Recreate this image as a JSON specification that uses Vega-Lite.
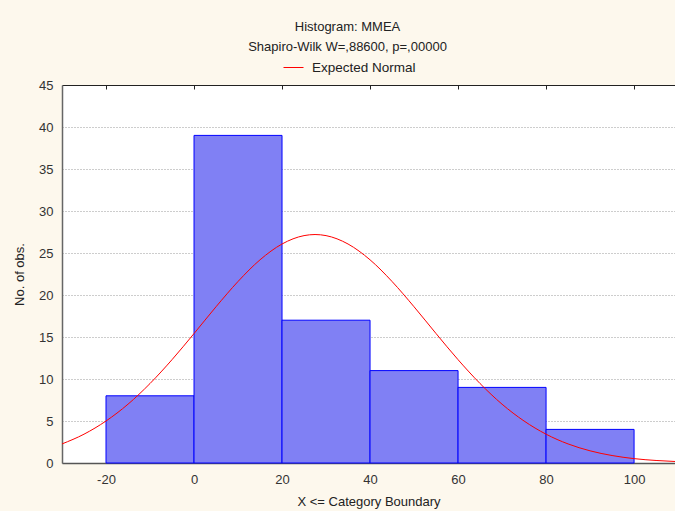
{
  "$schema": "https://vega.github.io/schema/vega-lite/v6.json",
  "width": 613,
  "height": 378,
  "autosize": {"type": "none"},
  "padding": {"left": 62, "top": 85, "right": 0, "bottom": 48},
  "background": "#fdf8ed",
  "config": {
    "view": {"fill": "white", "stroke": null},
    "font": "Liberation Sans",
    "axis": {"labelFont": "Liberation Sans", "titleFont": "Liberation Sans", "labelColor": "#333333", "titleColor": "#222222", "labelFontSize": 13, "titleFontSize": 13, "titleFontWeight": "normal"}
  },
  "title": {
    "text": ["Histogram: MMEA", "Shapiro-Wilk W=,88600, p=,00000"],
    "fontSize": 13,
    "fontWeight": "normal",
    "color": "#222222",
    "lineHeight": 20,
    "anchor": "middle",
    "dx": -21,
    "offset": 3
  },
  "datasets": {
    "bars": [
      {"start": -20, "end": 0, "count": 8},
      {"start": 0, "end": 20, "count": 39},
      {"start": 20, "end": 40, "count": 17},
      {"start": 40, "end": 60, "count": 11},
      {"start": 60, "end": 80, "count": 9},
      {"start": 80, "end": 100, "count": 4}
    ],
    "normal": [
      {"x": -30, "y": 2.27},
      {"x": -25, "y": 3.43},
      {"x": -20, "y": 5.0},
      {"x": -15, "y": 7.0},
      {"x": -10, "y": 9.46},
      {"x": -5, "y": 12.3},
      {"x": 0, "y": 15.41},
      {"x": 5, "y": 18.6},
      {"x": 10, "y": 21.61},
      {"x": 15, "y": 24.19},
      {"x": 20, "y": 26.07},
      {"x": 25, "y": 27.07},
      {"x": 27.5, "y": 27.2},
      {"x": 30, "y": 27.07},
      {"x": 35, "y": 26.07},
      {"x": 40, "y": 24.19},
      {"x": 45, "y": 21.61},
      {"x": 50, "y": 18.6},
      {"x": 55, "y": 15.41},
      {"x": 60, "y": 12.3},
      {"x": 65, "y": 9.46},
      {"x": 70, "y": 7.0},
      {"x": 75, "y": 5.0},
      {"x": 80, "y": 3.43},
      {"x": 85, "y": 2.27},
      {"x": 90, "y": 1.45},
      {"x": 95, "y": 0.89},
      {"x": 100, "y": 0.52},
      {"x": 105, "y": 0.3},
      {"x": 110, "y": 0.16}
    ]
  },
  "resolve": {"axis": {"x": "independent"}},
  "layer": [
    {
      "data": {"name": "bars"},
      "mark": {"type": "rect", "fill": "#8080f4", "stroke": "#0000ff", "strokeWidth": 1},
      "encoding": {
        "x": {
          "field": "start", "type": "quantitative",
          "scale": {"domain": [-30, 109.3], "nice": false, "zero": false},
          "axis": {
            "orient": "bottom", "values": [-20, 0, 20, 40, 60, 80, 100], "grid": false, "ticks": false,
            "labelExpr": "'' + datum.value",
            "labelPadding": 10, "domainColor": "#555555", "domainWidth": 1.5,
            "title": "X <= Category Boundary", "titlePadding": 9
          }
        },
        "x2": {"field": "end"},
        "y": {
          "field": "count", "type": "quantitative",
          "scale": {"domain": [0, 45], "nice": false},
          "axis": {
            "values": [0, 5, 10, 15, 20, 25, 30, 35, 40, 45], "grid": true, "gridDash": [1, 2], "gridColor": "#9a9a9a",
            "ticks": false, "labelPadding": 9, "domainColor": "#666666", "domainWidth": 1.5,
            "title": "No. of obs.", "titlePadding": 12
          }
        },
        "y2": {"datum": 0}
      }
    },
    {
      "data": {"name": "normal"},
      "mark": {"type": "line", "strokeWidth": 1, "interpolate": "monotone", "clip": true},
      "encoding": {
        "x": {
          "field": "x", "type": "quantitative",
          "axis": {
            "orient": "top", "values": [-20, 0, 20, 40, 60, 80, 100], "grid": false, "labels": false,
            "ticks": true, "tickSize": -4, "tickColor": "#222222", "domainColor": "#222222", "domainWidth": 1, "title": null
          }
        },
        "y": {"field": "y", "type": "quantitative"},
        "color": {
          "datum": "Expected Normal",
          "scale": {"range": ["#ff0000"]},
          "legend": {
            "orient": "none", "legendX": 221, "legendY": -28, "title": null,
            "symbolType": "stroke", "symbolSize": 400, "symbolStrokeWidth": 1,
            "labelFontSize": 13.5, "labelFont": "Liberation Sans", "labelColor": "#222222", "labelOffset": 8
          }
        }
      }
    }
  ]
}
